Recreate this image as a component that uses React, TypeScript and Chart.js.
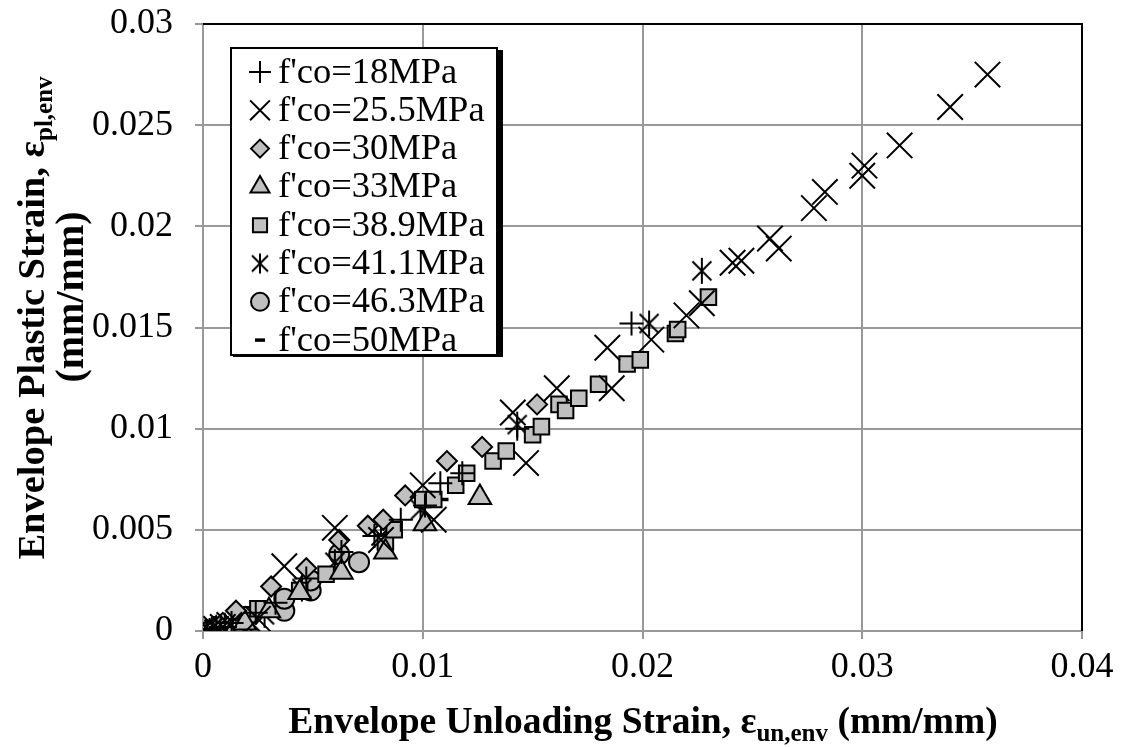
import React, { useEffect, useRef } from 'react';
import { Chart, registerables } from 'chart.js';
import { drawPoint } from 'chart.js/helpers';

Chart.register(...registerables);

const seriesNames = ["f'co=18MPa", "f'co=25.5MPa", "f'co=30MPa", "f'co=33MPa", "f'co=38.9MPa", "f'co=41.1MPa", "f'co=46.3MPa", "f'co=50MPa"];

const x18 = [0.0002, 0.0004, 0.0006, 0.0008, 0.0010, 0.0013, 0.0024, 0.0033, 0.0047, 0.0063, 0.0078, 0.0090, 0.0101, 0.0108, 0.0118, 0.0143, 0.0195];
const y18 = [0.0000, 0.0001, 0.0001, 0.0002, 0.0002, 0.0004, 0.0009, 0.0014, 0.0026, 0.0039, 0.0047, 0.0055, 0.0062, 0.0073, 0.0078, 0.0100, 0.0152];

const x255 = [0.0003, 0.0006, 0.0009, 0.0012, 0.0025, 0.0037, 0.0060, 0.0081, 0.0100, 0.0105, 0.0141, 0.0147, 0.0161, 0.0186, 0.0184, 0.0204, 0.0220, 0.0227, 0.0241, 0.0245, 0.0258, 0.0262, 0.0278, 0.0283, 0.0300, 0.0301, 0.0317, 0.0340, 0.0357];
const y255 = [0.0000, 0.0001, 0.0002, 0.0003, 0.0006, 0.0032, 0.0051, 0.0045, 0.0072, 0.0055, 0.0108, 0.0083, 0.0120, 0.0120, 0.0140, 0.0144, 0.0156, 0.0162, 0.0182, 0.0183, 0.0194, 0.0189, 0.0209, 0.0217, 0.0225, 0.0230, 0.0240, 0.0259, 0.0275];

const x30 = [0.0005, 0.0009, 0.0015, 0.0031, 0.0047, 0.0062, 0.0075, 0.0082, 0.0092, 0.0111, 0.0127, 0.0152];
const y30 = [0.0001, 0.0004, 0.0010, 0.0022, 0.0031, 0.0045, 0.0052, 0.0055, 0.0067, 0.0084, 0.0091, 0.0112];

const x33 = [0.0006, 0.0010, 0.0019, 0.0030, 0.0044, 0.0063, 0.0083, 0.0101, 0.0126];
const y33 = [0.0001, 0.0002, 0.0004, 0.0010, 0.0019, 0.0029, 0.0039, 0.0053, 0.0066];

const x389 = [0.0005, 0.0010, 0.0021, 0.0025, 0.0044, 0.0056, 0.0083, 0.0087, 0.0100, 0.0105, 0.0115, 0.0120, 0.0132, 0.0138, 0.0150, 0.0154, 0.0162, 0.0165, 0.0171, 0.0180, 0.0193, 0.0199, 0.0215, 0.0216, 0.0230];
const y389 = [0.0001, 0.0002, 0.0008, 0.0011, 0.0020, 0.0028, 0.0044, 0.0050, 0.0065, 0.0065, 0.0072, 0.0078, 0.0084, 0.0089, 0.0097, 0.0101, 0.0112, 0.0109, 0.0115, 0.0122, 0.0132, 0.0134, 0.0147, 0.0149, 0.0165];

const x411 = [0.0003, 0.0005, 0.0008, 0.0010, 0.0022, 0.0028, 0.0045, 0.0060, 0.0081, 0.0099, 0.0143, 0.0203, 0.0227];
const y411 = [0.0000, 0.0001, 0.0001, 0.0002, 0.0004, 0.0008, 0.0021, 0.0034, 0.0047, 0.0060, 0.0102, 0.0152, 0.0178];

const x463 = [0.0003, 0.0006, 0.0037, 0.0037, 0.0049, 0.0049, 0.0062, 0.0071];
const y463 = [0.0000, 0.0001, 0.0010, 0.0016, 0.0020, 0.0025, 0.0038, 0.0034];

const x50 = [0.0002, 0.0005, 0.0008, 0.0036, 0.0109];
const y50 = [0.0000, 0.0001, 0.0002, 0.0014, 0.0065];

const xTickLabels = ['0', '0.01', '0.02', '0.03', '0.04'];
const yTickLabels = ['0', '0.005', '0.01', '0.015', '0.02', '0.025', '0.03'];

const FILL = '#c0c0c0';

function makeAsterisk(size: number, armX: number, armV: number, lw: number): HTMLCanvasElement {
  const c = document.createElement('canvas');
  c.width = size;
  c.height = size;
  const g = c.getContext('2d')!;
  const m = size / 2;
  g.strokeStyle = '#000';
  g.lineWidth = lw;
  g.beginPath();
  g.moveTo(m - armX, m - armX);
  g.lineTo(m + armX, m + armX);
  g.moveTo(m - armX, m + armX);
  g.lineTo(m + armX, m - armX);
  g.moveTo(m, m - armV);
  g.lineTo(m, m + armV);
  g.stroke();
  return c;
}

function pts(xs: number[], ys: number[]) {
  return xs.map((x, i) => ({ x, y: ys[i] }));
}

function labelFor(list: string[], v: number) {
  const f = list.find((l) => Math.abs(parseFloat(l) - v) < 1e-9);
  return f === undefined ? '' : f;
}

function drawRich(ctx: CanvasRenderingContext2D, parts: { t: string; sub?: boolean }[], cx: number, baseY: number, size: number, subSize: number) {
  const mainFont = `bold ${size}px "Liberation Serif"`;
  const subFont = `bold ${subSize}px "Liberation Serif"`;
  let total = 0;
  const widths = parts.map((p) => {
    ctx.font = p.sub ? subFont : mainFont;
    const w = ctx.measureText(p.t).width;
    total += w;
    return w;
  });
  let x = cx - total / 2;
  ctx.textBaseline = 'alphabetic';
  ctx.textAlign = 'left';
  parts.forEach((p, i) => {
    ctx.font = p.sub ? subFont : mainFont;
    ctx.fillText(p.t, x, baseY + (p.sub ? size * 0.22 : 0));
    x += widths[i];
  });
}

export default function App() {
  const ref = useRef<HTMLCanvasElement>(null);
  useEffect(() => {
    document.body.style.margin = '0';
    const star = makeAsterisk(30, 9.5, 13, 2);
    const starLegend = makeAsterisk(24, 8, 10, 2);

    const styles: any[] = ['cross', 'crossRot', 'rectRot', 'triangle', 'rect', star, 'circle', 'line'];
    const radii = [12, 18, 10, 13, 11, 13, 10, 6];
    const legendRadii = [11, 14, 9, 11, 10, 10, 9, 5];
    const legendStyles: any[] = ['cross', 'crossRot', 'rectRot', 'triangle', 'rect', starLegend, 'circle', 'line'];
    const borderW = [2, 2, 2, 2, 2, 2, 2, 3.5];
    const allData = [pts(x18, y18), pts(x255, y255), pts(x30, y30), pts(x33, y33), pts(x389, y389), pts(x411, y411), pts(x463, y463), pts(x50, y50)];

    const overlay = {
      id: 'overlay',
      beforeDatasetsDraw(chart: any) {
        const { ctx, chartArea: a } = chart;
        ctx.save();
        ctx.strokeStyle = '#000';
        ctx.lineWidth = 2;
        ctx.beginPath();
        ctx.moveTo(a.left, a.top);
        ctx.lineTo(a.right, a.top);
        ctx.lineTo(a.right, a.bottom);
        ctx.stroke();
        ctx.restore();
      },
      afterDraw(chart: any) {
        const ctx: CanvasRenderingContext2D = chart.ctx;
        ctx.save();
        // legend box
        const lx = 231, ly = 48, lw = 266, lh = 307;
        ctx.fillStyle = '#000';
        ctx.fillRect(lx + lw, ly + 2, 6, lh);
        ctx.fillRect(lx + 2, ly + lh, lw + 4, 2);
        ctx.fillStyle = '#fff';
        ctx.fillRect(lx, ly, lw, lh);
        ctx.strokeStyle = '#000';
        ctx.lineWidth = 2;
        ctx.strokeRect(lx, ly, lw, lh);
        seriesNames.forEach((name, i) => {
          const cy = 72 + i * 38.3;
          ctx.fillStyle = FILL;
          ctx.strokeStyle = '#000';
          ctx.lineWidth = i === 7 ? 3.5 : 2;
          drawPoint(ctx, { pointStyle: legendStyles[i], radius: legendRadii[i], rotation: 0, borderWidth: ctx.lineWidth } as any, 260, cy);
          ctx.fillStyle = '#000';
          ctx.font = '36.5px "Liberation Serif"';
          ctx.textBaseline = 'middle';
          ctx.textAlign = 'left';
          ctx.fillText(name, 278, cy + 1);
        });
        // axis titles
        ctx.fillStyle = '#000';
        drawRich(ctx, [{ t: 'Envelope Unloading Strain, ε' }, { t: 'un,env', sub: true }, { t: ' (mm/mm)' }], 643, 733, 37.5, 25);
        ctx.save();
        ctx.translate(44, 318);
        ctx.rotate(-Math.PI / 2);
        drawRich(ctx, [{ t: 'Envelope Plastic Strain, ε' }, { t: 'pl,env', sub: true }], 0, 0, 38.5, 25);
        ctx.restore();
        ctx.save();
        ctx.translate(83, 297);
        ctx.rotate(-Math.PI / 2);
        drawRich(ctx, [{ t: '(mm/mm)' }], 0, 0, 40, 25);
        ctx.restore();
        ctx.restore();
      },
    };

    const chart = new Chart(ref.current!, {
      type: 'scatter',
      data: {
        datasets: allData.map((d, i) => ({
          label: seriesNames[i],
          data: d,
          pointStyle: styles[i],
          pointRadius: radii[i],
          pointHoverRadius: radii[i],
          pointBackgroundColor: FILL,
          pointBorderColor: '#000',
          pointBorderWidth: borderW[i],
          showLine: false,
        })),
      },
      options: {
        animation: false,
        responsive: false,
        events: [],
        layout: { padding: { left: 0, top: 24, right: 44, bottom: 0 } },
        plugins: { legend: { display: false }, tooltip: { enabled: false } },
        scales: {
          x: {
            type: 'linear',
            min: 0,
            max: 0.04,
            ticks: {
              stepSize: 0.01,
              color: '#000',
              font: { family: 'Liberation Serif', size: 36 },
              padding: 7,
              callback: (v: any) => labelFor(xTickLabels, Number(v)),
              maxRotation: 0,
            },
            grid: { color: '#999', lineWidth: 2, tickLength: 8 },
            border: { color: '#999', width: 2 },
            afterFit: (s: any) => { s.height = 116; s.paddingLeft = 0; s.paddingRight = 0; },
          },
          y: {
            type: 'linear',
            min: 0,
            max: 0.03,
            ticks: {
              stepSize: 0.005,
              color: '#000',
              font: { family: 'Liberation Serif', size: 36 },
              padding: 22,
              callback: (v: any) => labelFor(yTickLabels, Number(v)),
            },
            grid: { color: '#999', lineWidth: 2, tickLength: 8 },
            border: { color: '#999', width: 2 },
            afterFit: (s: any) => { s.width = 203; s.paddingTop = 0; s.paddingBottom = 0; },
          },
        },
      },
      plugins: [overlay],
    });
    return () => chart.destroy();
  }, []);
  return <canvas ref={ref} width={1126} height={747} style={{ display: 'block' }} />;
}
